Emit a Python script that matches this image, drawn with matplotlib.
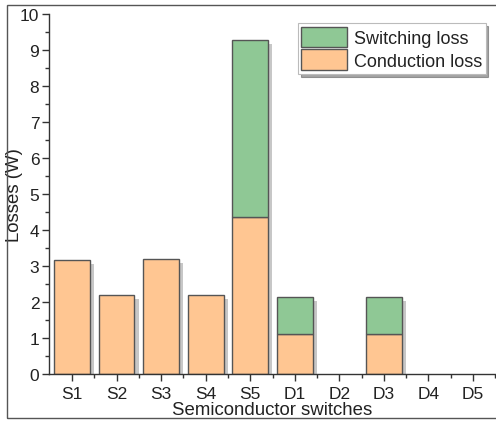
import numpy as np
import matplotlib
matplotlib.use("Agg")
import matplotlib.pyplot as plt
import matplotlib.patheffects as pe
from matplotlib.patches import Rectangle, Patch
from matplotlib.ticker import MultipleLocator

plt.rcParams['font.family'] = ['Liberation Sans', 'DejaVu Sans']

switches = ["S1", "S2", "S3", "S4", "S5", "D1", "D2", "D3", "D4", "D5"]
conduction = [3.18, 2.2, 3.2, 2.2, 4.35, 1.12, 0, 1.12, 0, 0]
switching = [0, 0, 0, 0, 4.92, 1.03, 0, 1.03, 0, 0]

green = "#8fc895"
orange = "#ffc692"
edge = "#555555"

fig = plt.figure(figsize=(4.96, 4.27), dpi=100)
# outer frame
fig.patches.append(Rectangle((7 / 496, 1 - 419 / 427), 1.2, (419 - 6) / 427,
                             transform=fig.transFigure, fill=False,
                             edgecolor="#555555", linewidth=1.0))
ax = fig.add_axes([49 / 496, 1 - 375 / 427, 1 - 49 / 496, 360 / 427])

x = np.arange(len(switches))
total = np.array(conduction) + np.array(switching)

# drop shadow behind each full stack
sh = ax.bar(x, total, width=0.8, color="white", edgecolor="none", zorder=1)
for r, h in zip(sh, total):
    r.set_path_effects([pe.SimplePatchShadow(offset=(3, -3), shadow_rgbFace="#000000", alpha=0.22)])
    r.set_visible(h > 0)

b1 = ax.bar(x, conduction, width=0.8, color=orange, edgecolor=edge, linewidth=1.0, zorder=2)
b2 = ax.bar(x, switching, width=0.8, bottom=conduction, color=green, edgecolor=edge,
            linewidth=1.0, zorder=2)
for bars, vals in ((b1, conduction), (b2, switching)):
    for r, h in zip(bars, vals):
        r.set_visible(h > 0)

ax.set_xlim(-0.52, 9.52)
ax.set_ylim(0, 10)
ax.set_xticks(x)
ax.set_xticklabels(switches)
ax.set_xticks(x + 0.5, minor=True)
ax.yaxis.set_major_locator(MultipleLocator(1))
ax.yaxis.set_minor_locator(MultipleLocator(0.5))
ax.tick_params(axis="both", which="major", direction="out", length=5, width=1.0,
               labelsize=12.5, colors="#333333", labelcolor="#222222")
ax.tick_params(axis="both", which="minor", direction="out", length=3, width=1.0,
               colors="#333333")
ax.tick_params(axis="x", pad=4)
ax.tick_params(axis="y", pad=2)
for s in ("top", "right"):
    ax.spines[s].set_visible(False)
for s in ("left", "bottom"):
    ax.spines[s].set_linewidth(1.0)
    ax.spines[s].set_color("#333333")

ax.set_xlabel("Semiconductor switches", fontsize=13.4, labelpad=0, color="#222222")
ax.set_ylabel("Losses (W)", fontsize=13.4, labelpad=-2, color="#222222")

handles = [Patch(facecolor=green, edgecolor=edge, label="Switching loss"),
           Patch(facecolor=orange, edgecolor=edge, label="Conduction loss")]
leg = ax.legend(handles=handles, loc="upper right", bbox_to_anchor=(0.985, 0.985),
                fontsize=13, frameon=True, fancybox=False, shadow=True,
                handlelength=2.5, handleheight=1.4, handletextpad=0.4,
                labelspacing=0.1, borderpad=0.2, borderaxespad=0.2)
leg.get_frame().set_edgecolor("#bbbbbb")
leg.get_frame().set_linewidth(0.8)
for t in leg.get_texts():
    t.set_color("#222222")

fig.savefig("out.png", dpi=100)
